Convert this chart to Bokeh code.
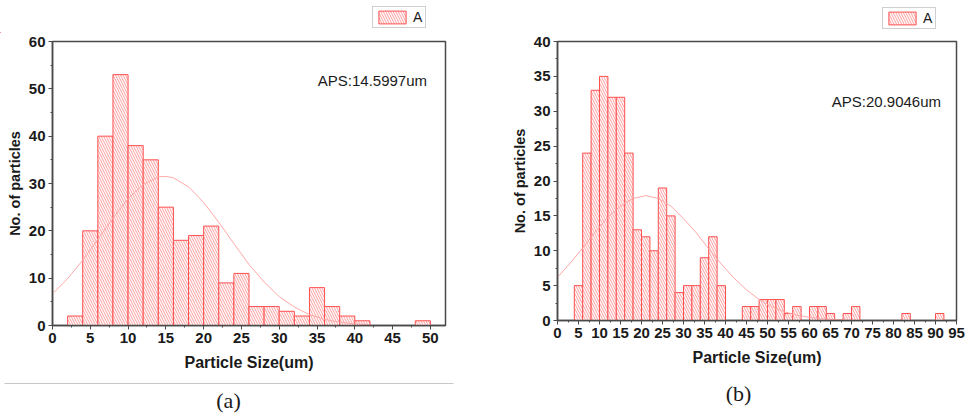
from bokeh.plotting import figure
from bokeh.layouts import row, column
from bokeh.models import FixedTicker, Legend, LegendItem, Label, Range1d
from bokeh.core.properties import value
from bokeh.embed import file_html
from bokeh.resources import INLINE

# ---------------- data: panel (a) ----------------
bin_width = 2
bins_a = [2, 4, 6, 8, 10, 12, 14, 16, 18, 20, 22, 24, 26, 28, 30, 32, 34, 36, 38, 40, 48]
counts_a = [2, 20, 40, 53, 38, 35, 25, 18, 19, 21, 9, 11, 4, 4, 3, 2, 8, 4, 2, 1, 1]
fit_x_a = [0, 2, 4, 6, 8, 10, 12, 14, 15, 16, 18, 20, 22, 24, 26, 28, 30, 32, 34, 36, 38, 40, 42]
fit_y_a = [6.7, 9.9, 13.8, 18.2, 22.7, 26.8, 29.8, 31.4, 31.5, 31.2, 29.3, 26.0, 21.8, 17.3,
           12.9, 9.2, 6.1, 3.9, 2.3, 1.3, 0.7, 0.35, 0.17]
xticks_a = [0, 5, 10, 15, 20, 25, 30, 35, 40, 45, 50]
yticks_a = [0, 10, 20, 30, 40, 50, 60]
aps_a = "APS:14.5997um"

# ---------------- data: panel (b) ----------------
bins_b = [4, 6, 8, 10, 12, 14, 16, 18, 20, 22, 24, 26, 28, 30, 32, 34, 36, 38,
          44, 46, 48, 50, 52, 54, 56, 60, 62, 64, 68, 70, 82, 90]
counts_b = [5, 24, 33, 35, 32, 32, 24, 13, 12, 10, 19, 15, 4, 5, 5, 9, 12, 5,
            2, 2, 3, 3, 3, 1, 2, 2, 2, 1, 1, 2, 1, 1]
fit_x_b = [0, 3, 6, 9, 12, 15, 18, 21, 24, 27, 30, 33, 36, 39, 42, 45, 48, 51, 54,
           57, 60, 63, 66, 69, 72]
fit_y_b = [6.2, 8.2, 10.4, 12.7, 14.8, 16.4, 17.5, 17.9, 17.5, 16.4, 14.6, 12.6, 10.3,
           8.1, 6.1, 4.4, 3.0, 2.0, 1.25, 0.76, 0.44, 0.24, 0.13, 0.07, 0.03]
xticks_b = [0, 5, 10, 15, 20, 25, 30, 35, 40, 45, 50, 55, 60, 65, 70, 75, 80, 85, 90, 95]
yticks_b = [0, 5, 10, 15, 20, 25, 30, 35, 40]
aps_b = "APS:20.9046um"

legend_label = "A"
x_title = "Particle Size(um)"
y_title = "No. of particles"
captions = ["(a)", "(b)"]

BAR_LINE = "#ff4f4f"
HATCH = "#ff9c9c"
FIT = "#ffa8a8"
AXIS = "#4a4a4a"
SANS = "Liberation Sans"
BAR_STYLE = dict(fill_color="white", line_color=BAR_LINE, line_width=1,
                 hatch_pattern="left_diagonal_line", hatch_color=HATCH,
                 hatch_scale=5, hatch_weight=1)


def minors(ticks):
    step = ticks[1] - ticks[0]
    return [t + step / 2 for t in ticks[:-1]]


def strip_fig(h):
    s = figure(width=970, height=h, x_range=Range1d(0, 970), y_range=Range1d(0, h),
               min_border=0, x_axis_type=None, y_axis_type=None,
               output_backend="svg", toolbar_location=None, tools="")
    s.outline_line_color = None
    s.grid.visible = False
    s.background_fill_color = "white"
    s.border_fill_color = "white"
    return s


def panel(bins, counts, fit_x, fit_y, xticks, yticks, xmax, ymax, aps, aps_xy,
          fw, fh, bl, br, bb):
    p = figure(frame_width=fw, frame_height=fh, min_border_left=bl, min_border_right=br,
               min_border_top=8, min_border_bottom=bb,
               x_range=Range1d(0, xmax), y_range=Range1d(0, ymax),
               output_backend="svg", toolbar_location=None, tools="")
    p.grid.visible = False
    p.outline_line_color = AXIS
    p.outline_line_width = 1.5
    p.background_fill_color = "white"
    p.border_fill_color = "white"

    centers = [b + bin_width / 2 for b in bins]
    p.vbar(x=centers, width=bin_width, top=counts, bottom=0, **BAR_STYLE)
    p.line(fit_x, fit_y, line_color=FIT, line_width=1)

    p.xaxis.ticker = FixedTicker(ticks=xticks, minor_ticks=minors(xticks))
    p.yaxis.ticker = FixedTicker(ticks=yticks, minor_ticks=minors(yticks))
    for ax in (p.xaxis, p.yaxis):
        ax.axis_line_color = AXIS
        ax.axis_line_width = 1.5
        ax.major_tick_line_color = AXIS
        ax.minor_tick_line_color = AXIS
        ax.major_tick_in = 0
        ax.major_tick_out = 4
        ax.minor_tick_in = 0
        ax.minor_tick_out = 2
        ax.major_label_text_font = SANS
        ax.major_label_text_font_style = "bold"
        ax.major_label_text_font_size = "15px"
        ax.major_label_text_color = "#1a1a1a"
        ax.major_label_standoff = 3
        ax.axis_label_text_font = SANS
        ax.axis_label_text_font_style = "bold"
        ax.axis_label_text_color = "#1a1a1a"
    p.xaxis.axis_label = x_title
    p.yaxis.axis_label = y_title
    p.xaxis.axis_label_text_font_size = "16px"
    p.yaxis.axis_label_text_font_size = "14.5px"
    p.xaxis.axis_label_standoff = 8
    p.yaxis.axis_label_standoff = 3

    p.add_layout(Label(x=aps_xy[0], y=aps_xy[1], text=aps, text_font=SANS,
                       text_font_size="15px", text_color="#1a1a1a",
                       text_baseline="middle", text_align="left"))
    return p


pa = panel(bins_a, counts_a, fit_x_a, fit_y_a, xticks_a, yticks_a, 52, 60, aps_a, (35.1, 51.8),
           393, 284, 52, 45, 55)
pb = panel(bins_b, counts_b, fit_x_b, fit_y_b, xticks_b, yticks_b, 95, 40, aps_b, (65.3, 31.4),
           399, 279, 67, 14, 60)

# legend strip above both panels (screen pixels, y from strip bottom);
# the swatch renderer sits outside the strip's range so only its legend entry shows
top = strip_fig(33)
for loc in [(372, 5), (882, 4)]:
    swatch = top.vbar(x=[-1000], width=bin_width, top=[1], bottom=0, **BAR_STYLE)
    leg = Legend(items=[LegendItem(label=legend_label, renderers=[swatch])],
                 location=loc, border_line_color="#a0a0a0", border_line_width=1,
                 padding=2, margin=0, spacing=0, glyph_width=34, glyph_height=16,
                 label_height=16, label_width=10, label_standoff=4, label_text_font=SANS,
                 label_text_font_size="14px", label_text_color="#1a1a1a",
                 background_fill_color="white", background_fill_alpha=1)
    top.add_layout(leg)

# caption strip below both panels
bottom = strip_fig(33)
bottom.segment(x0=[4], y0=[30], x1=[453], y1=[30], line_color="#c8c8c8", line_width=1)
bottom.text(x=[228, 738], y=[13, 20], text=captions, text_align="center",
            text_baseline="middle", text_font=value("Liberation Serif"),
            text_font_size="22px", text_color="#1a1a1a")

layout = column(top, row(pa, pb), bottom, spacing=0)
open("out.html", "w").write(file_html(layout, INLINE))
